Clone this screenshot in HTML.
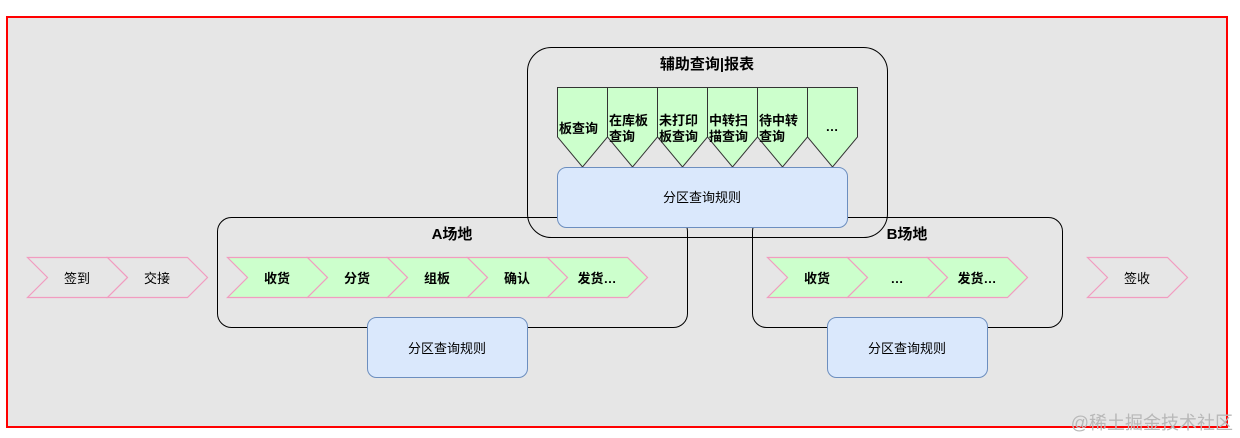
<!DOCTYPE html>
<html><head><meta charset="utf-8"><style>
html,body{margin:0;padding:0;background:#fff;}
svg{display:block;font-family:"Liberation Sans","Noto Sans CJK SC",sans-serif;}
</style></head><body>
<svg width="1240" height="438" viewBox="0 0 1240 438" xmlns="http://www.w3.org/2000/svg">
<rect x="7" y="17" width="1220" height="410" fill="#e6e6e6" stroke="#ff0000" stroke-width="2"/>

<!-- A box -->
<rect x="217.5" y="217.5" width="470" height="110" rx="14" fill="none" stroke="#000" stroke-width="1"/>
<!-- B box -->
<rect x="752.5" y="217.5" width="310" height="110" rx="14" fill="none" stroke="#000" stroke-width="1"/>
<!-- top container -->
<rect x="527.5" y="47.5" width="360" height="190" rx="24" fill="none" stroke="#000" stroke-width="1"/>

<text x="707" y="69" font-size="15" font-weight="bold" text-anchor="middle" fill="#000">辅助查询|报表</text>
<text x="452" y="239" font-size="15" font-weight="bold" text-anchor="middle" fill="#000">A场地</text>
<text x="907" y="239" font-size="15" font-weight="bold" text-anchor="middle" fill="#000">B场地</text>

<!-- pentagons -->
<g fill="#ccffcc" stroke="#333" stroke-width="1">
<polygon points="557.5,87.5 607.5,87.5 607.5,137 582.5,167 557.5,137"/>
<polygon points="607.5,87.5 657.5,87.5 657.5,137 632.5,167 607.5,137"/>
<polygon points="657.5,87.5 707.5,87.5 707.5,137 682.5,167 657.5,137"/>
<polygon points="707.5,87.5 757.5,87.5 757.5,137 732.5,167 707.5,137"/>
<polygon points="757.5,87.5 807.5,87.5 807.5,137 782.5,167 757.5,137"/>
<polygon points="807.5,87.5 857.5,87.5 857.5,137 832.5,167 807.5,137"/>
</g>
<g font-size="13" font-weight="bold" fill="#000">
<text x="559" y="133">板查询</text>
<text x="609" y="125">在库板</text><text x="609" y="141">查询</text>
<text x="659" y="125">未打印</text><text x="659" y="141">板查询</text>
<text x="709" y="125">中转扫</text><text x="709" y="141">描查询</text>
<text x="759" y="125">待中转</text><text x="759" y="141">查询</text>
<text x="832" y="131" text-anchor="middle">…</text>
</g>

<!-- blue boxes -->
<g fill="#dae8fc" stroke="#6c8ebf" stroke-width="1">
<rect x="557.5" y="167.5" width="290" height="60" rx="9"/>
<rect x="367.5" y="317.5" width="160" height="60" rx="9"/>
<rect x="827.5" y="317.5" width="160" height="60" rx="9"/>
</g>
<g font-size="13" fill="#000" text-anchor="middle">
<text x="702" y="202">分区查询规则</text>
<text x="447" y="353">分区查询规则</text>
<text x="907" y="353">分区查询规则</text>
</g>

<!-- chevrons -->
<g stroke="#f19cc0" stroke-width="1.2">
<g fill="#e6e6e6">
<polygon points="27.5,257.5 107.5,257.5 127.5,277.5 107.5,297.5 27.5,297.5 47.5,277.5"/>
<polygon points="107.5,257.5 187.5,257.5 207.5,277.5 187.5,297.5 107.5,297.5 127.5,277.5"/>
<polygon points="1087.5,257.5 1167.5,257.5 1187.5,277.5 1167.5,297.5 1087.5,297.5 1107.5,277.5"/>
</g>
<g fill="#ccffcc">
<polygon points="227.5,257.5 307.5,257.5 327.5,277.5 307.5,297.5 227.5,297.5 247.5,277.5"/>
<polygon points="307.5,257.5 387.5,257.5 407.5,277.5 387.5,297.5 307.5,297.5 327.5,277.5"/>
<polygon points="387.5,257.5 467.5,257.5 487.5,277.5 467.5,297.5 387.5,297.5 407.5,277.5"/>
<polygon points="467.5,257.5 547.5,257.5 567.5,277.5 547.5,297.5 467.5,297.5 487.5,277.5"/>
<polygon points="547.5,257.5 627.5,257.5 647.5,277.5 627.5,297.5 547.5,297.5 567.5,277.5"/>
<polygon points="767.5,257.5 847.5,257.5 867.5,277.5 847.5,297.5 767.5,297.5 787.5,277.5"/>
<polygon points="847.5,257.5 927.5,257.5 947.5,277.5 927.5,297.5 847.5,297.5 867.5,277.5"/>
<polygon points="927.5,257.5 1007.5,257.5 1027.5,277.5 1007.5,297.5 927.5,297.5 947.5,277.5"/>
</g>
</g>
<g font-size="13" fill="#000" text-anchor="middle">
<text x="77" y="283">签到</text>
<text x="157" y="283">交接</text>
<text x="1137" y="283">签收</text>
</g>
<g font-size="13" font-weight="bold" fill="#000" text-anchor="middle">
<text x="277" y="283">收货</text>
<text x="357" y="283">分货</text>
<text x="437" y="283">组板</text>
<text x="517" y="283">确认</text>
<text x="597" y="283">发货…</text>
<text x="817" y="283">收货</text>
<text x="897" y="283">…</text>
<text x="977" y="283">发货…</text>
</g>

<text x="1233" y="429" font-size="18" fill="#b8b8b8" text-anchor="end">@稀土掘金技术社区</text>
</svg>
</body></html>
